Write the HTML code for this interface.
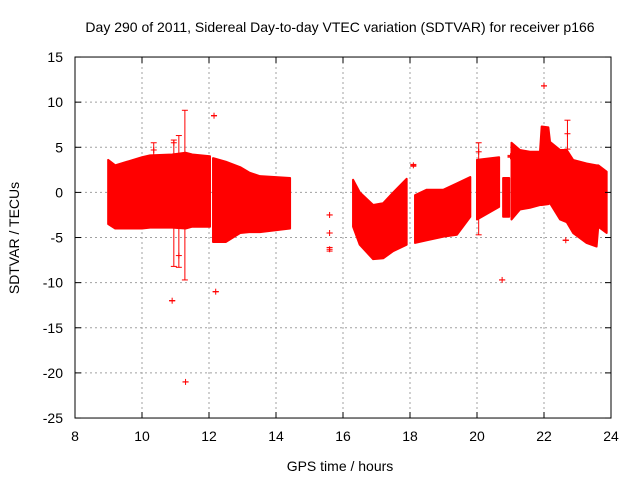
<!DOCTYPE html>
<html><head><meta charset="utf-8"><style>
html,body{margin:0;padding:0;background:#fff;}
svg{display:block;font-family:"Liberation Sans",sans-serif;}
</style></head><body>
<svg id="chart" width="640" height="480">
<text x="340" y="32" font-size="14" text-anchor="middle" fill="#000">Day 290 of 2011, Sidereal Day-to-day VTEC variation (SDTVAR) for receiver p166</text>
<g id="grid"></g><g id="marks"></g><g id="axes"></g>
<text x="340" y="471" font-size="14" text-anchor="middle">GPS time / hours</text>
<text transform="translate(19,238) rotate(-90)" font-size="14" text-anchor="middle">SDTVAR / TECUs</text>
</svg>
<script>
const xTicks=[8,10,12,14,16,18,20,22,24];
const yTicks=[15,10,5,0,-5,-10,-15,-20,-25];
// envelope segments: hours, top, bottom
const segHours=[
 [8.99,9.2,10.0,10.24,10.9,11.3,11.5,12.03],
 [12.12,12.5,12.93,13.2,13.52,14.42],
 [16.3,16.5,16.9,17.2,17.5,17.9],
 [18.15,18.5,19.0,19.4,19.8],
 [20.0,20.66],
 [20.78,20.96],
 [21.03,21.28,21.58,21.88,21.93,22.13,22.18,22.48,22.68,22.87,23.27,23.57,23.62,23.87]
];
const segTop=[
 [3.6,3.0,3.9,4.1,4.2,4.4,4.2,4.0],
 [3.8,3.4,2.8,2.2,1.8,1.6],
 [1.4,0.0,-1.4,-1.2,0.0,1.5],
 [-0.3,0.3,0.3,1.0,1.7],
 [3.6,3.9],
 [1.6,1.6],
 [5.5,4.7,4.5,4.5,7.3,7.2,5.6,4.7,4.7,3.6,3.2,3.0,3.0,2.3]
];
const segBottom=[
 [-3.5,-4.0,-4.0,-3.9,-3.9,-4.0,-3.8,-3.8],
 [-5.5,-5.5,-4.5,-4.4,-4.4,-4.0],
 [-3.8,-5.8,-7.4,-7.3,-6.5,-5.8],
 [-5.6,-5.3,-4.9,-4.7,-2.7],
 [-3.0,-1.6],
 [-2.7,-2.7],
 [-3.0,-1.9,-1.7,-1.4,-1.4,-1.3,-1.2,-3.0,-3.3,-4.5,-5.6,-6.0,-3.8,-4.5]
];
// isolated points with error bars: hour, value, low, high
const ptHour=[10.9,11.3,11.28,12.15,12.2,15.6,15.6,15.6,18.1,20.75,22.0,22.7,22.65,10.35,10.95,11.1,20.05,21.0];
const ptVal=[-12,-21,-1,8.5,-11,-2.5,-4.5,-6.3,3,-9.7,11.8,6.5,-5.3,4.7,5.5,-7,4.5,4];
const ptLow=[-12,-21,-9.7,8.5,-11,-2.5,-4.5,-6.5,2.9,-9.7,11.8,4.8,-5.3,3.5,-8.2,-8.3,-4.7,3.9];
const ptHigh=[-12,-21,9.1,8.5,-11,-2.5,-4.5,-6.1,3.1,-9.7,11.8,8.0,-5.3,5.5,5.8,6.3,5.5,4.1];

const X=h=>75+(h-8)*33.5;
const Y=v=>192.4-v*9.025;
const NS='http://www.w3.org/2000/svg';
function mk(t,p,a){const e=document.createElementNS(NS,t);for(const k in a)e.setAttribute(k,a[k]);p.appendChild(e);return e;}
const grid=document.getElementById('grid'),axes=document.getElementById('axes'),marks=document.getElementById('marks');
xTicks.forEach(t=>{
 const x=X(t);
 if(t>8&&t<24){const g=mk('line',grid,{x1:x,x2:x,y1:Y(15),y2:Y(-25),stroke:'#a0a0a0','stroke-dasharray':'2,3'});
 
 }
 mk('line',axes,{x1:x,x2:x,y1:Y(-25),y2:Y(-25)-6,stroke:'#000'});
 mk('line',axes,{x1:x,x2:x,y1:Y(15),y2:Y(15)+6,stroke:'#000'});
 const l=mk('text',axes,{x:x,y:441,'font-size':14,'text-anchor':'middle'});l.textContent=t;
 
 
});
yTicks.forEach(t=>{
 const y=Y(t);
 if(t<15&&t>-25){const g=mk('line',grid,{x1:X(8),x2:X(24),y1:y,y2:y,stroke:'#a0a0a0','stroke-dasharray':'2,3'});
 
 }
 mk('line',axes,{x1:X(8),x2:X(8)+6,y1:y,y2:y,stroke:'#000'});
 mk('line',axes,{x1:X(24),x2:X(24)-6,y1:y,y2:y,stroke:'#000'});
 const l=mk('text',axes,{x:63,y:y+5,'font-size':14,'text-anchor':'end'});l.textContent=t;
 
 
});
const fr=mk('rect',axes,{x:X(8),y:Y(15),width:X(24)-X(8),height:Y(-25)-Y(15),fill:'none',stroke:'#000'});


segHours.forEach((hs,i)=>{
 const pts=hs.map((h,j)=>X(h)+','+Y(segTop[i][j])).concat(hs.map((h,j)=>X(h)+','+Y(segBottom[i][j])).reverse());
 const p=mk('polygon',marks,{points:pts.join(' '),fill:'#ff0000',stroke:'#ff0000','stroke-width':2,'stroke-linejoin':'round'});
 
 
});
ptHour.forEach((h,i)=>{
 const g=mk('g',marks,{stroke:'#ff0000','stroke-width':1});
 
 
 const x=X(h);
 mk('line',g,{x1:x,x2:x,y1:Y(ptLow[i]),y2:Y(ptHigh[i])});
 mk('line',g,{x1:x-3,x2:x+3,y1:Y(ptLow[i]),y2:Y(ptLow[i])});
 mk('line',g,{x1:x-3,x2:x+3,y1:Y(ptHigh[i]),y2:Y(ptHigh[i])});
 mk('line',g,{x1:x-3,x2:x+3,y1:Y(ptVal[i]),y2:Y(ptVal[i])});
 mk('line',g,{x1:x,x2:x,y1:Y(ptVal[i])-3,y2:Y(ptVal[i])+3});
});
</script>
</body></html>
